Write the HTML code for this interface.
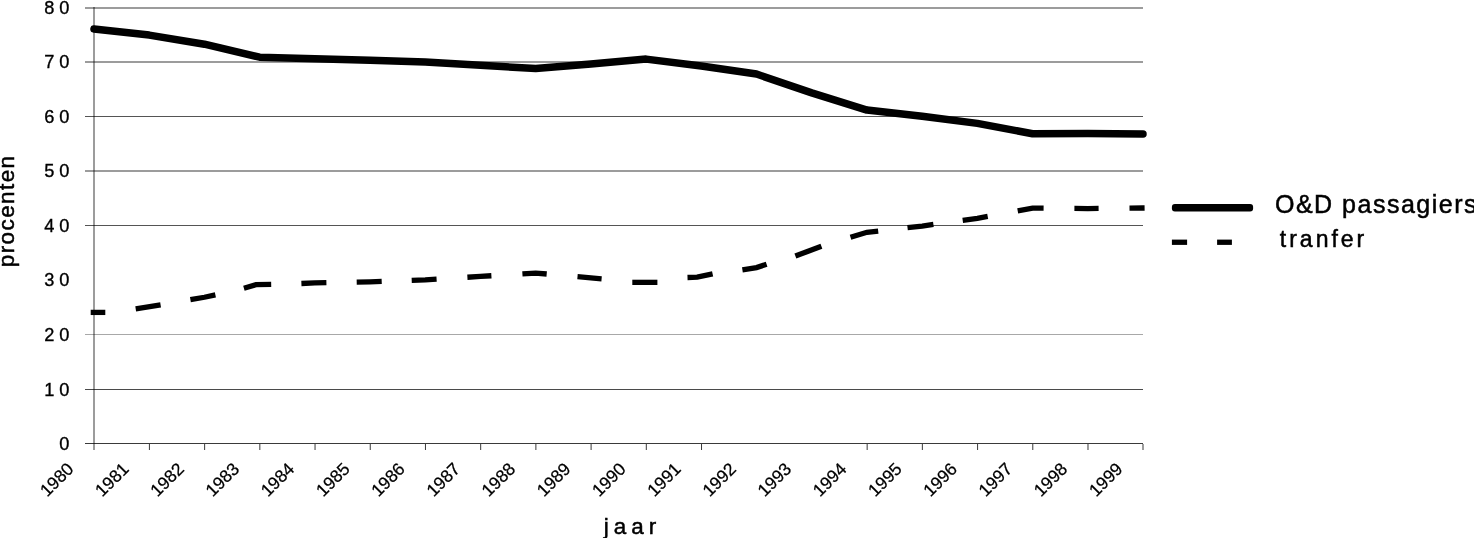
<!DOCTYPE html>
<html><head><meta charset="utf-8"><style>
html,body{margin:0;padding:0;background:#fff;}
svg{display:block;}
text{font-family:"Liberation Sans",Arial,sans-serif;fill:#000;stroke:#000;stroke-width:0.5px;}
.yl{font-size:18.2px;letter-spacing:4.9px;stroke-width:0.35px;}
.xl{font-size:17.5px;stroke-width:0.25px;}
.yt{font-size:22.5px;letter-spacing:1.4px;}
.xt{font-size:22.4px;letter-spacing:5px;}
.lg{font-size:25px;letter-spacing:1.5px;}
.lg2{font-size:23px;letter-spacing:3px;}
</style></head><body>
<svg width="1474" height="538" viewBox="0 0 1474 538">
<rect width="1474" height="538" fill="#fff"/>
<rect x="85" y="7" width="1058" height="2" fill="#9c9c9c"/><rect x="85" y="61" width="1058" height="2" fill="#9c9c9c"/><rect x="85" y="116" width="1058" height="1" fill="#555"/><rect x="85" y="170" width="1058" height="2" fill="#9c9c9c"/><rect x="85" y="225" width="1058" height="1" fill="#555"/><rect x="85" y="334" width="1058" height="1" fill="#a8a8a8"/><rect x="85" y="389" width="1058" height="1" fill="#4a4a4a"/><rect x="85" y="443" width="1058" height="1" fill="#3a3a3a"/><rect x="93" y="7" width="2" height="443" fill="#9c9c9c" style="mix-blend-mode:multiply"/>
<rect x="148.91" y="444" width="1" height="6" fill="#3a3a3a"/><rect x="204.12" y="444" width="1" height="6" fill="#3a3a3a"/><rect x="259.33" y="444" width="1" height="6" fill="#3a3a3a"/><rect x="314.54" y="444" width="1" height="6" fill="#3a3a3a"/><rect x="369.75" y="444" width="1" height="6" fill="#3a3a3a"/><rect x="424.96" y="444" width="1" height="6" fill="#3a3a3a"/><rect x="480.17" y="444" width="1" height="6" fill="#3a3a3a"/><rect x="535.38" y="444" width="1" height="6" fill="#3a3a3a"/><rect x="590.59" y="444" width="1" height="6" fill="#3a3a3a"/><rect x="645.81" y="444" width="1" height="6" fill="#3a3a3a"/><rect x="701.02" y="444" width="1" height="6" fill="#3a3a3a"/><rect x="866.65" y="444" width="1" height="6" fill="#3a3a3a"/><rect x="921.86" y="444" width="1" height="6" fill="#3a3a3a"/><rect x="977.07" y="444" width="1" height="6" fill="#3a3a3a"/><rect x="1032.28" y="444" width="1" height="6" fill="#3a3a3a"/><rect x="1087.49" y="444" width="1" height="6" fill="#3a3a3a"/><rect x="1142" y="444" width="2" height="6" fill="#9c9c9c"/>
<path d="M94.00,28.90 L149.21,35.10 L204.42,44.20 L259.63,57.20 L314.84,58.75 L370.05,60.20 L425.26,61.90 L480.47,65.30 L535.68,68.60 L590.89,64.00 L646.11,59.10 L701.32,66.00 L756.53,74.05 L811.74,92.90 L866.95,110.10 L922.16,116.30 L977.37,123.40 L1032.58,133.70 L1087.79,133.60 L1143.00,133.90" fill="none" stroke="#000" stroke-width="7.5" stroke-linecap="round" stroke-linejoin="round"/>
<g fill="none" stroke="#000" stroke-width="5.3" stroke-linecap="butt" stroke-linejoin="miter">
<path d="M90.70,312.4 L105.30,312.4"/>
<path d="M135.70,308.80 L160.60,304.90"/>
<path d="M190.40,299.66 L204.42,297.25 L215.40,294.84"/>
<path d="M243.90,288.20 L256.00,284.70 L271.20,284.40"/>
<path d="M301.40,283.50 L314.84,282.97 L326.40,282.72"/>
<path d="M356.70,282.08 L370.05,281.79 L381.70,281.37"/>
<path d="M411.70,280.29 L425.26,279.80 L436.60,279.11"/>
<path d="M467.40,277.24 L480.47,276.44 L491.40,275.77"/>
<path d="M522.40,273.86 L535.68,273.04 L546.70,274.00"/>
<path d="M577.50,276.68 L590.89,277.85 L601.60,278.77"/>
<path d="M632.30,282.35 L657.40,282.35"/>
<path d="M687.50,277.50 L697.20,277.20 L712.60,273.80"/>
<path d="M742.40,269.79 L756.53,267.62 L766.60,264.27"/>
<path d="M795.40,256.10 L821.40,246.20"/>
<path d="M850.50,237.34 L866.95,232.29 L878.20,231.02"/>
<path d="M907.50,227.70 L922.16,226.04 L933.40,224.49"/>
<path d="M962.70,220.43 L977.37,218.40 L987.70,216.46"/>
<path d="M1017.70,210.83 L1032.58,208.05 L1043.60,208.14"/>
<path d="M1074.40,208.42 L1087.79,208.54 L1098.60,208.44"/>
<path d="M1129.50,208.13 L1143.00,208.00 L1144.60,207.98"/>
</g>
<text x="74.2" y="13.6" class="yl" text-anchor="end">80</text>
<text x="74.2" y="68.2" class="yl" text-anchor="end">70</text>
<text x="74.2" y="122.7" class="yl" text-anchor="end">60</text>
<text x="74.2" y="177.2" class="yl" text-anchor="end">50</text>
<text x="74.2" y="231.7" class="yl" text-anchor="end">40</text>
<text x="74.2" y="286.2" class="yl" text-anchor="end">30</text>
<text x="74.2" y="340.7" class="yl" text-anchor="end">20</text>
<text x="74.2" y="395.7" class="yl" text-anchor="end">10</text>
<text x="74.2" y="449.7" class="yl" text-anchor="end">0</text>
<text class="xl" text-anchor="end" transform="translate(74.7,470.0) rotate(-45)">1980</text>
<text class="xl" text-anchor="end" transform="translate(129.9,470.0) rotate(-45)">1981</text>
<text class="xl" text-anchor="end" transform="translate(185.1,470.0) rotate(-45)">1982</text>
<text class="xl" text-anchor="end" transform="translate(240.3,470.0) rotate(-45)">1983</text>
<text class="xl" text-anchor="end" transform="translate(295.5,470.0) rotate(-45)">1984</text>
<text class="xl" text-anchor="end" transform="translate(350.8,470.0) rotate(-45)">1985</text>
<text class="xl" text-anchor="end" transform="translate(406.0,470.0) rotate(-45)">1986</text>
<text class="xl" text-anchor="end" transform="translate(461.2,470.0) rotate(-45)">1987</text>
<text class="xl" text-anchor="end" transform="translate(516.4,470.0) rotate(-45)">1988</text>
<text class="xl" text-anchor="end" transform="translate(571.6,470.0) rotate(-45)">1989</text>
<text class="xl" text-anchor="end" transform="translate(626.8,470.0) rotate(-45)">1990</text>
<text class="xl" text-anchor="end" transform="translate(682.0,470.0) rotate(-45)">1991</text>
<text class="xl" text-anchor="end" transform="translate(737.2,470.0) rotate(-45)">1992</text>
<text class="xl" text-anchor="end" transform="translate(792.4,470.0) rotate(-45)">1993</text>
<text class="xl" text-anchor="end" transform="translate(847.6,470.0) rotate(-45)">1994</text>
<text class="xl" text-anchor="end" transform="translate(902.9,470.0) rotate(-45)">1995</text>
<text class="xl" text-anchor="end" transform="translate(958.1,470.0) rotate(-45)">1996</text>
<text class="xl" text-anchor="end" transform="translate(1013.3,470.0) rotate(-45)">1997</text>
<text class="xl" text-anchor="end" transform="translate(1068.5,470.0) rotate(-45)">1998</text>
<text class="xl" text-anchor="end" transform="translate(1123.7,470.0) rotate(-45)">1999</text>
<text class="yt" transform="translate(13.8,267.2) rotate(-90)">procenten</text>
<text class="xt" x="603.8" y="533.8">jaar</text>
<rect x="1171.9" y="204.1" width="81.2" height="7.4" rx="3" fill="#000"/>
<rect x="1171.9" y="239.6" width="15.2" height="5.3" fill="#000"/>
<rect x="1217.1" y="239.6" width="14.8" height="5.3" fill="#000"/>
<text class="lg" x="1275" y="213">O&amp;D passagiers</text>
<text class="lg2" x="1279.8" y="247.0">tranfer</text>
</svg>
</body></html>
